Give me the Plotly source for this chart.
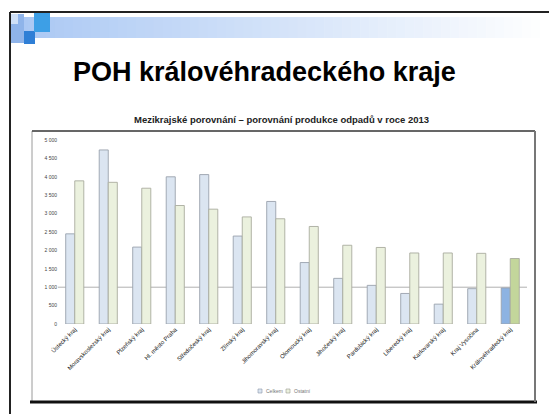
import plotly.graph_objects as go

W, H = 549, 414

categories = ["Ústecký kraj", "Moravskoslezský kraj", "Plzeňský kraj", "Hl. město Praha",
              "Středočeský kraj", "Zlínský kraj", "Jihomoravský kraj", "Olomoucký kraj",
              "Jihočeský kraj", "Pardubický kraj", "Liberecký kraj", "Karlovarský kraj",
              "Kraj Vysočina", "Královéhradecký kraj"]
celkem = [2450, 4730, 2090, 4000, 4060, 2390, 3330, 1670, 1240, 1050, 830, 540, 960, 980]
druhy = [3890, 3850, 3690, 3220, 3120, 2910, 2860, 2650, 2140, 2080, 1930, 1930, 1920, 1780]
series_names = ["Celkem", "Ostatní"]
y_ticks = [0, 500, 1000, 1500, 2000, 2500, 3000, 3500, 4000, 4500, 5000]
y_ticktext = ["0", "500", "1 000", "1 500", "2 000", "2 500", "3 000", "3 500", "4 000", "4 500", "5 000"]
ref_value = 1000

blue_colors = ["#dbe5f1"] * (len(categories) - 1) + ["#8db3e2"]
green_colors = ["#ebf1de"] * (len(categories) - 1) + ["#c3d69b"]


def px_x(p):
    return p / W


def px_y(p):
    return 1 - p / H


fig = go.Figure()
fig.add_trace(go.Bar(x=categories, y=celkem, name=series_names[0], showlegend=False,
                     marker=dict(color=blue_colors, line=dict(color="#9aa2ad", width=0.9))))
fig.add_trace(go.Bar(x=categories, y=druhy, name=series_names[1], showlegend=False,
                     marker=dict(color=green_colors, line=dict(color="#a9ac9e", width=0.9))))

shapes = []
# slide gradient header band
n = 60
x0, x1 = 10, 549
for i in range(n):
    t = i / (n - 1)
    r = int(170 + (255 - 170) * t)
    g = int(200 + (255 - 200) * t)
    b = int(244 + (255 - 244) * t)
    shapes.append(dict(type="rect", xref="paper", yref="paper",
                       x0=px_x(x0 + (x1 - x0) * i / n), x1=px_x(x0 + (x1 - x0) * (i + 1) / n + 0.5),
                       y0=px_y(38), y1=px_y(17), line=dict(width=0),
                       fillcolor=f"rgb({r},{g},{b})", layer="below"))
# logo squares
for (a, b_, c, d, col) in [(11, 14, 24, 43, "#8fb4ea"), (24, 31, 35, 44, "#2f7fd6"),
                           (34, 13, 50, 32, "#3d9fe6"), (11, 14, 18, 24, "#cfe0f7")]:
    shapes.append(dict(type="rect", xref="paper", yref="paper",
                       x0=px_x(a), x1=px_x(c), y0=px_y(d), y1=px_y(b_),
                       line=dict(width=0), fillcolor=col))
# slide border
shapes.append(dict(type="line", xref="paper", yref="paper", x0=px_x(10), x1=px_x(10),
                   y0=px_y(12), y1=0, line=dict(color="#222", width=2)))
shapes.append(dict(type="line", xref="paper", yref="paper", x0=px_x(10), x1=1,
                   y0=px_y(12), y1=px_y(12), line=dict(color="#222", width=2)))
# chart frame
shapes.append(dict(type="rect", xref="paper", yref="paper", x0=px_x(32), x1=px_x(535),
                   y0=px_y(402), y1=px_y(131), line=dict(color="#9a9a9a", width=1)))
shapes.append(dict(type="line", xref="paper", yref="paper", x0=px_x(32), x1=px_x(535),
                   y0=px_y(131), y1=px_y(131), line=dict(color="#444", width=1.5)))
shapes.append(dict(type="line", xref="paper", yref="paper", x0=px_x(30), x1=px_x(537),
                   y0=px_y(402), y1=px_y(402), line=dict(color="#111", width=3)))
shapes.append(dict(type="line", xref="paper", yref="paper", x0=px_x(535), x1=px_x(535),
                   y0=px_y(402), y1=px_y(131), line=dict(color="#777", width=2)))
# reference line
shapes.append(dict(type="line", xref="paper", yref="y", x0=px_x(58), x1=px_x(527),
                   y0=ref_value, y1=ref_value, line=dict(color="#b0b0b0", width=1), layer="below"))
# manual legend swatches
shapes.append(dict(type="rect", xref="paper", yref="paper", x0=px_x(258), x1=px_x(262),
                   y0=px_y(393), y1=px_y(389), fillcolor=blue_colors[0],
                   line=dict(color="#8a96a8", width=0.6)))
shapes.append(dict(type="rect", xref="paper", yref="paper", x0=px_x(286), x1=px_x(290),
                   y0=px_y(393), y1=px_y(389), fillcolor=green_colors[0],
                   line=dict(color="#9a9c90", width=0.6)))

fig.update_layout(
    width=W, height=H, margin=dict(l=0, r=0, t=0, b=0, autoexpand=False),
    paper_bgcolor="white", plot_bgcolor="white",
    font=dict(family="Liberation Sans, Arial, sans-serif", color="#222"),
    barmode="group", bargap=0.46, bargroupgap=0,
    shapes=shapes,
    showlegend=False,
    xaxis=dict(domain=[px_x(58), px_x(527)], tickangle=-45, tickfont=dict(size=6, color="#222"),
               showgrid=False, showline=False, ticks="", automargin=False),
    yaxis=dict(domain=[px_y(324), px_y(140)], range=[0, 5000], tickvals=y_ticks,
               ticktext=y_ticktext, tickfont=dict(size=5, color="#444"),
               showgrid=False, zeroline=False, showline=False, ticks="", automargin=False),
    annotations=[
        dict(text="<b>POH královéhradeckého kraje</b>", xref="paper", yref="paper",
             x=px_x(264), y=px_y(72), showarrow=False, font=dict(size=27, color="black"),
             xanchor="center", yanchor="middle"),
        dict(text="<b>Mezikrajské porovnání – porovnání produkce odpadů v roce 2013</b>",
             xref="paper", yref="paper", x=px_x(281), y=px_y(120), showarrow=False,
             font=dict(size=9.5, color="#222"), xanchor="center", yanchor="middle"),
        dict(text=series_names[0], xref="paper", yref="paper", x=px_x(264), y=px_y(391),
             showarrow=False, font=dict(size=5, color="#777"), xanchor="left", yanchor="middle"),
        dict(text=series_names[1], xref="paper", yref="paper", x=px_x(292), y=px_y(391),
             showarrow=False, font=dict(size=5, color="#777"), xanchor="left", yanchor="middle"),
    ],
)

fig.write_html("out.html", config={"displayModeBar": False},
               post_script="document.body.style.margin='0';document.body.style.overflow='hidden';")
